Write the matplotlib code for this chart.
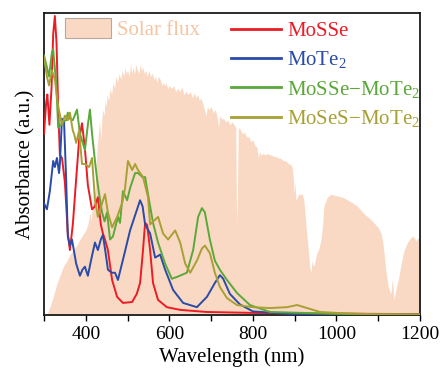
import numpy as np
import matplotlib
matplotlib.use("Agg")
import matplotlib.pyplot as plt
from matplotlib.patches import Patch
from matplotlib.lines import Line2D
from matplotlib.ticker import MultipleLocator

plt.rcParams['font.family'] = ['Liberation Serif', 'DejaVu Serif']
plt.rcParams['mathtext.fontset'] = 'custom'
plt.rcParams['mathtext.rm'] = 'Liberation Serif'
plt.rcParams['mathtext.it'] = 'Liberation Serif:italic'

# solar flux envelope (arb. units)
solar_wl = [300, 307, 315, 322, 330, 338, 346, 355, 362, 370, 378, 386, 395, 400, 405,
            410, 413, 417, 420, 422, 425, 427, 430, 433, 436, 439, 441, 444, 446, 449,
            451, 455, 458, 462, 465, 469, 472, 476, 480, 484, 487, 491, 494, 497, 500,
            504, 507, 510, 513, 517, 520, 524, 527, 530, 533, 537, 540, 544, 547, 551,
            555, 559, 563, 567, 570, 574, 578, 582, 585, 589, 592, 596, 600, 605, 610,
            615, 620, 625, 630, 635, 640, 645, 650, 655, 660, 664, 668, 672, 675, 680,
            684, 688, 691, 695, 700, 705, 710, 714, 718, 720, 725, 730, 735, 740, 745,
            750, 755, 759, 761, 763, 765, 770, 775, 780, 785, 790, 795, 800, 805, 810,
            813, 816, 820, 825, 830, 835, 840, 845, 850, 855, 860, 865, 870, 875, 880,
            885, 890, 894, 897, 899, 901, 903, 910, 918, 922, 927, 932, 936, 939, 942,
            946, 952, 958, 963, 967, 970, 978, 987, 1000, 1015, 1028, 1040, 1050, 1060, 1070,
            1080, 1090, 1100, 1107, 1111, 1114, 1118, 1124, 1130, 1134, 1138, 1143, 1148, 1155, 1162,
            1170, 1179, 1185, 1190, 1195, 1200]
solar_val = [0.0, 0.0, 0.03, 0.06, 0.10, 0.13, 0.16, 0.18, 0.20, 0.215, 0.23, 0.25, 0.27, 0.28, 0.30,
             0.34, 0.31, 0.38, 0.42, 0.40, 0.50, 0.55, 0.60, 0.64, 0.58, 0.66, 0.68, 0.66, 0.71, 0.69,
             0.73, 0.71, 0.75, 0.73, 0.77, 0.75, 0.79, 0.77, 0.80, 0.78, 0.81, 0.79, 0.82, 0.80, 0.81,
             0.79, 0.83, 0.80, 0.82, 0.80, 0.83, 0.81, 0.80, 0.83, 0.81, 0.82, 0.80, 0.81, 0.79, 0.81,
             0.79, 0.80, 0.78, 0.79, 0.77, 0.79, 0.78, 0.76, 0.77, 0.76, 0.77, 0.75, 0.76, 0.75, 0.76,
             0.74, 0.75, 0.74, 0.755, 0.73, 0.74, 0.73, 0.74, 0.72, 0.735, 0.72, 0.73, 0.71, 0.72, 0.70,
             0.68, 0.66, 0.69, 0.68, 0.69, 0.67, 0.68, 0.66, 0.62, 0.66, 0.65, 0.65, 0.64, 0.645, 0.63,
             0.64, 0.63, 0.62, 0.30, 0.40, 0.62, 0.615, 0.60, 0.605, 0.59, 0.59, 0.575, 0.58, 0.56, 0.555,
             0.52, 0.54, 0.53, 0.535, 0.53, 0.535, 0.53, 0.53, 0.525, 0.525, 0.52, 0.52, 0.515, 0.51, 0.51,
             0.50, 0.50, 0.49, 0.45, 0.40, 0.44, 0.38, 0.40, 0.40, 0.38, 0.30, 0.225, 0.16, 0.14, 0.18,
             0.16, 0.20, 0.22, 0.25, 0.30, 0.36, 0.39, 0.40, 0.395, 0.39, 0.38, 0.37, 0.36, 0.345, 0.33,
             0.32, 0.305, 0.29, 0.27, 0.24, 0.205, 0.15, 0.093, 0.07, 0.12, 0.05, 0.09, 0.116, 0.17, 0.215,
             0.24, 0.258, 0.26, 0.245, 0.255, 0.248]

# MoSSe
mosse_wl = [300, 305, 308, 313, 318, 322, 326, 330, 334, 338, 343, 350, 357, 362, 369,
            377, 384, 391, 398, 405, 415, 422, 429, 436, 441, 446, 453, 463, 475, 489,
            511, 522, 530, 537, 542, 547, 554, 561, 573, 594, 626, 690, 800, 913, 1200]
mosse_val = [0.60, 0.70, 0.73, 0.63, 0.75, 0.93, 0.99, 0.90, 0.68, 0.53, 0.52, 0.44, 0.27, 0.215, 0.30,
             0.45, 0.58, 0.635, 0.55, 0.43, 0.35, 0.36, 0.39, 0.30, 0.27, 0.25, 0.215, 0.116, 0.06, 0.04,
             0.043, 0.07, 0.106, 0.215, 0.305, 0.298, 0.215, 0.106, 0.05, 0.026, 0.017, 0.01, 0.007, 0.005, 0.003]

# MoTe2
mote2_wl = [300, 307, 314, 322, 326, 331, 336, 338, 343, 348, 353, 357, 362, 367, 377,
            386, 392, 398, 405, 414, 422, 429, 436, 441, 447, 453, 462, 470, 477, 492,
            506, 518, 530, 536, 542, 554, 566, 578, 590, 609, 633, 666, 690, 709, 721,
            729, 745, 769, 800, 882, 1000, 1200]
mote2_val = [0.37, 0.35, 0.41, 0.51, 0.49, 0.52, 0.47, 0.50, 0.65, 0.64, 0.45, 0.26, 0.23, 0.25, 0.17,
             0.13, 0.15, 0.16, 0.13, 0.19, 0.24, 0.215, 0.25, 0.265, 0.21, 0.15, 0.14, 0.14, 0.116, 0.20,
             0.28, 0.33, 0.38, 0.36, 0.30, 0.27, 0.19, 0.20, 0.15, 0.083, 0.04, 0.026, 0.06, 0.106, 0.132,
             0.12, 0.07, 0.035, 0.012, 0.004, 0.002, 0.001]

# MoSSe-MoTe2
h1_wl = [300, 307, 312, 319, 322, 329, 334, 341, 345, 353, 357, 362, 369, 379, 386,
         398, 405, 410, 415, 422, 427, 432, 439, 445, 451, 458, 465, 477, 482, 489,
         499, 506, 518, 525, 537, 542, 549, 561, 573, 590, 606, 618, 642, 657, 669,
         678, 685, 697, 709, 721, 738, 762, 793, 841, 920, 1025, 1200]
h1_val = [0.86, 0.82, 0.79, 0.87, 0.88, 0.77, 0.62, 0.63, 0.64, 0.645, 0.67, 0.65, 0.645, 0.68, 0.60,
          0.546, 0.63, 0.68, 0.60, 0.51, 0.45, 0.40, 0.34, 0.31, 0.34, 0.25, 0.26, 0.325, 0.305, 0.41,
          0.38, 0.42, 0.47, 0.47, 0.455, 0.457, 0.40, 0.305, 0.24, 0.17, 0.12, 0.126, 0.14, 0.215, 0.325,
          0.354, 0.34, 0.25, 0.18, 0.15, 0.116, 0.073, 0.033, 0.01, 0.007, 0.003, 0.001]

# MoSeS-MoTe2
h2_wl = [300, 307, 312, 319, 326, 334, 343, 350, 357, 362, 369, 372, 377, 384, 391,
         398, 408, 415, 422, 429, 439, 446, 453, 463, 475, 487, 494, 501, 511, 518,
         525, 537, 549, 554, 573, 585, 597, 614, 626, 638, 650, 666, 678, 685, 697,
         709, 721, 738, 762, 800, 841, 882, 906, 930, 961, 1001, 1080, 1200]
h2_val = [0.854, 0.79, 0.76, 0.81, 0.78, 0.69, 0.63, 0.66, 0.645, 0.67, 0.61, 0.60, 0.57, 0.61, 0.50,
          0.50, 0.49, 0.52, 0.38, 0.325, 0.37, 0.40, 0.34, 0.29, 0.325, 0.37, 0.42, 0.51, 0.48, 0.50,
          0.48, 0.457, 0.39, 0.30, 0.325, 0.27, 0.25, 0.28, 0.24, 0.17, 0.14, 0.18, 0.22, 0.23, 0.205,
          0.14, 0.093, 0.056, 0.033, 0.026, 0.023, 0.026, 0.033, 0.023, 0.01, 0.007, 0.003, 0.002]

c_solar = '#F9D9C4'
c_solar_txt = '#F5C4A2'
c_red = '#EC1C24'
c_blue = '#2A4BA8'
c_green = '#5BA83A'
c_olive = '#A8A035'

fig = plt.figure(figsize=(4.4, 3.69), dpi=100)
ax = fig.add_axes([0.1, 0.1463, 0.8545, 0.8185])

ax.fill_between(solar_wl, 0, solar_val, color=c_solar, lw=0, zorder=1)
ax.plot(mosse_wl, mosse_val, color=c_red, lw=1.4, zorder=3)
ax.plot(mote2_wl, mote2_val, color=c_blue, lw=1.4, zorder=3)
ax.plot(h1_wl, h1_val, color=c_green, lw=1.4, zorder=3)
ax.plot(h2_wl, h2_val, color=c_olive, lw=1.4, zorder=3)

ax.set_xlim(300, 1200)
ax.set_ylim(0, 1.0)
ax.set_yticks([])
ax.xaxis.set_major_locator(MultipleLocator(200))
ax.xaxis.set_minor_locator(MultipleLocator(100))
ax.tick_params(axis='x', which='both', direction='out', length=4, width=1.0,
               labelsize=14, pad=4, top=False)
for s in ax.spines.values():
    s.set_linewidth(1.3)
    s.set_color('#1a1a1a')

ax.set_xlabel('Wavelength (nm)', fontsize=15, labelpad=3)
ax.set_ylabel('Absorbance (a.u.)', fontsize=15, labelpad=6)

leg1 = ax.legend([Patch(facecolor=c_solar, edgecolor='#b8a89c', lw=0.8)], ['Solar flux'],
                 loc='upper left', bbox_to_anchor=(0.056, 0.983), frameon=False,
                 fontsize=15, handlelength=2.2, handleheight=1.1, borderpad=0,
                 borderaxespad=0, handletextpad=0.3, labelcolor=c_solar_txt)
ax.add_artist(leg1)

handles = [Line2D([], [], color=c, lw=2) for c in [c_red, c_blue, c_green, c_olive]]
labels = ['MoSSe', r'MoTe$_\mathrm{2}$', r'MoSSe−MoTe$_\mathrm{2}$', r'MoSeS−MoTe$_\mathrm{2}$']
ax.legend(handles, labels, loc='upper left', bbox_to_anchor=(0.497, 0.972), frameon=False,
          fontsize=15, handlelength=2.4, borderpad=0, borderaxespad=0,
          handletextpad=0.3, labelspacing=0.4, labelcolor='linecolor')

fig.savefig('out.png', dpi=100)
